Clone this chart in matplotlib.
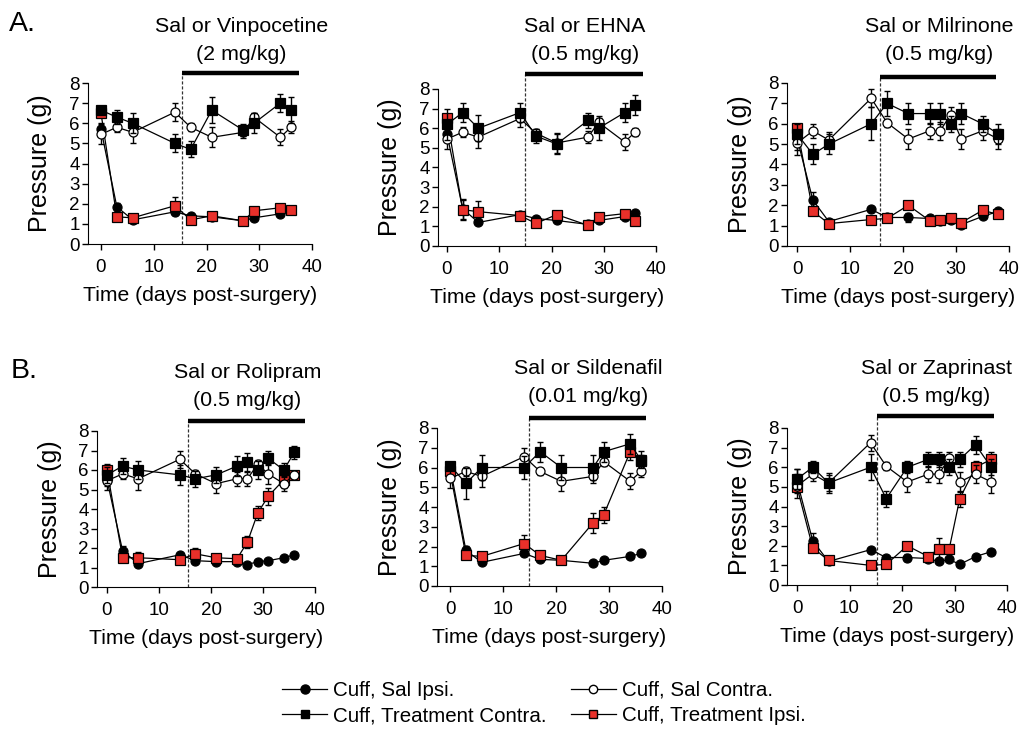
import numpy as np
import matplotlib.pyplot as plt
from matplotlib.lines import Line2D
from matplotlib import transforms

plt.rcParams['font.family'] = ['Liberation Sans', 'DejaVu Sans']

RED = '#e8302a'

# ---- data ----
# A. Vinpocetine
vin_days = [0, 3, 6, 14, 17, 21, 27, 29, 34, 36]
vin_sal_ipsi = [5.7, 1.85, 1.2, 1.6, 1.4, 1.35, 1.15, 1.3, 1.5, 1.7]
vin_sal_ipsi_err = [0.3, 0.2, 0.1, 0.1, 0.1, 0.1, 0.1, 0.1, 0.1, 0.1]
vin_sal_contra = [5.45, 5.8, 5.55, 6.55, 5.8, 5.3, 5.55, 6.3, 5.3, 5.8]
vin_sal_contra_err = [0.5, 0.25, 0.55, 0.45, 0.2, 0.5, 0.3, 0.2, 0.4, 0.3]
vin_trt_contra = [6.65, 6.3, 6.0, 5.0, 4.7, 6.65, 5.65, 6.0, 7.0, 6.65]
vin_trt_contra_err = [0.2, 0.35, 0.5, 0.45, 0.4, 0.65, 0.3, 0.5, 0.45, 0.65]
vin_trt_ipsi = [6.5, 1.35, 1.3, 1.9, 1.2, 1.4, 1.15, 1.65, 1.8, 1.7]
vin_trt_ipsi_err = [0.1, 0.1, 0.1, 0.45, 0.1, 0.1, 0.1, 0.1, 0.1, 0.1]

# A. EHNA
ehna_days = [0, 3, 6, 14, 17, 21, 27, 29, 34, 36]
ehna_sal_ipsi = [5.7, 1.9, 1.2, 1.6, 1.4, 1.3, 1.1, 1.3, 1.5, 1.7]
ehna_sal_ipsi_err = [0.3, 0.5, 0.1, 0.1, 0.1, 0.1, 0.1, 0.1, 0.1, 0.1]
ehna_sal_contra = [5.45, 5.8, 5.55, 6.5, 5.75, 5.25, 5.55, 6.3, 5.3, 5.8]
ehna_sal_contra_err = [0.5, 0.25, 0.55, 0.45, 0.2, 0.5, 0.3, 0.2, 0.4, 0.2]
ehna_trt_contra = [6.2, 6.8, 6.0, 6.8, 5.6, 5.2, 6.4, 6.0, 6.8, 7.2]
ehna_trt_contra_err = [0.8, 0.5, 0.65, 0.5, 0.35, 0.5, 0.4, 0.6, 0.5, 0.5]
ehna_trt_ipsi = [6.5, 1.85, 1.75, 1.55, 1.15, 1.6, 1.05, 1.5, 1.65, 1.25]
ehna_trt_ipsi_err = [0.1, 0.5, 0.55, 0.1, 0.1, 0.1, 0.1, 0.1, 0.1, 0.1]

# A. Milrinone
mil_days = [0, 3, 6, 14, 17, 21, 25, 27, 29, 31, 35, 38]
mil_sal_ipsi = [5.3, 2.25, 1.2, 1.8, 1.4, 1.4, 1.35, 1.25, 1.3, 1.05, 1.45, 1.7]
mil_sal_ipsi_err = [0.6, 0.4, 0.1, 0.1, 0.1, 0.2, 0.1, 0.1, 0.1, 0.1, 0.1, 0.1]
mil_sal_contra = [5.05, 5.65, 5.2, 7.25, 6.05, 5.25, 5.65, 5.65, 6.45, 5.25, 5.65, 5.25]
mil_sal_contra_err = [0.6, 0.35, 0.4, 0.45, 0.2, 0.5, 0.4, 0.45, 0.35, 0.5, 0.45, 0.5]
mil_trt_contra = [5.5, 4.5, 5.0, 6.0, 7.0, 6.5, 6.5, 6.5, 6.0, 6.5, 6.0, 5.5]
mil_trt_contra_err = [0.5, 0.5, 0.5, 0.8, 0.6, 0.5, 0.5, 0.5, 0.4, 0.5, 0.4, 0.5]
mil_trt_ipsi = [5.8, 1.7, 1.1, 1.3, 1.35, 2.0, 1.25, 1.3, 1.35, 1.15, 1.75, 1.55]
mil_trt_ipsi_err = [0.1, 0.1, 0.1, 0.1, 0.1, 0.1, 0.1, 0.1, 0.1, 0.1, 0.1, 0.1]

# B. Rolipram
rol_days = [0, 3, 6, 14, 17, 21, 25, 27, 29, 31, 34, 36]
rol_sal_ipsi = [5.5, 1.85, 1.2, 1.65, 1.35, 1.3, 1.3, 1.15, 1.3, 1.35, 1.5, 1.65]
rol_sal_ipsi_err = [0.3, 0.25, 0.1, 0.1, 0.1, 0.1, 0.1, 0.1, 0.1, 0.1, 0.1, 0.1]
rol_sal_contra = [5.45, 5.8, 5.55, 6.55, 5.8, 5.3, 5.55, 5.55, 6.3, 5.8, 5.3, 5.75]
rol_sal_contra_err = [0.5, 0.25, 0.55, 0.45, 0.2, 0.5, 0.35, 0.35, 0.2, 0.5, 0.4, 0.2]
rol_trt_contra = [5.75, 6.2, 6.0, 5.75, 5.55, 5.75, 6.2, 6.4, 6.0, 6.6, 6.0, 6.9]
rol_trt_contra_err = [0.4, 0.4, 0.45, 0.5, 0.4, 0.4, 0.5, 0.45, 0.45, 0.35, 0.35, 0.35]
rol_trt_ipsi = [6.0, 1.5, 1.5, 1.4, 1.7, 1.5, 1.45, 2.3, 3.8, 4.65, 5.5, 5.75]
rol_trt_ipsi_err = [0.3, 0.1, 0.3, 0.1, 0.3, 0.1, 0.1, 0.3, 0.35, 0.45, 0.4, 0.1]

# B. Sildenafil
sil_days = [0, 3, 6, 14, 17, 21, 27, 29, 34, 36]
sil_sal_ipsi = [6.05, 1.8, 1.2, 1.65, 1.35, 1.3, 1.15, 1.3, 1.5, 1.65]
sil_sal_ipsi_err = [0.2, 0.25, 0.1, 0.1, 0.1, 0.1, 0.1, 0.1, 0.1, 0.1]
sil_sal_contra = [5.45, 5.8, 5.55, 6.55, 5.8, 5.3, 5.55, 6.3, 5.3, 5.8]
sil_sal_contra_err = [0.5, 0.25, 0.55, 0.45, 0.2, 0.5, 0.35, 0.2, 0.4, 0.3]
sil_trt_contra = [6.1, 5.2, 6.0, 6.0, 6.8, 6.0, 6.0, 6.8, 7.2, 6.4]
sil_trt_contra_err = [0.2, 0.8, 0.65, 0.6, 0.5, 0.65, 0.65, 0.5, 0.5, 0.45]
sil_trt_ipsi = [5.8, 1.55, 1.5, 2.15, 1.55, 1.3, 3.2, 3.6, 6.8, 6.35]
sil_trt_ipsi_err = [0.1, 0.1, 0.1, 0.45, 0.1, 0.1, 0.5, 0.4, 0.4, 0.3]

# B. Zaprinast
zap_days = [0, 3, 6, 14, 17, 21, 25, 27, 29, 31, 34, 37]
zap_sal_ipsi = [5.3, 2.25, 1.2, 1.8, 1.4, 1.4, 1.35, 1.2, 1.3, 1.05, 1.45, 1.7]
zap_sal_ipsi_err = [0.6, 0.4, 0.1, 0.1, 0.1, 0.2, 0.1, 0.1, 0.1, 0.1, 0.1, 0.1]
zap_sal_contra = [5.05, 5.65, 5.2, 7.25, 6.05, 5.25, 5.65, 5.65, 6.45, 5.25, 5.65, 5.25]
zap_sal_contra_err = [0.6, 0.35, 0.4, 0.4, 0.2, 0.5, 0.4, 0.45, 0.35, 0.5, 0.45, 0.55]
zap_trt_contra = [5.4, 6.0, 5.2, 6.0, 4.4, 6.0, 6.4, 6.4, 6.0, 6.4, 7.15, 6.0]
zap_trt_contra_err = [0.5, 0.3, 0.5, 0.65, 0.4, 0.3, 0.4, 0.4, 0.4, 0.4, 0.45, 0.4]
zap_trt_ipsi = [5.0, 1.9, 1.25, 1.0, 1.05, 2.0, 1.45, 1.85, 1.85, 4.4, 6.0, 6.4]
zap_trt_ipsi_err = [0.1, 0.1, 0.1, 0.1, 0.1, 0.1, 0.1, 0.55, 0.1, 0.4, 0.3, 0.4]

drug_names = ['Sal or Vinpocetine', 'Sal or EHNA', 'Sal or Milrinone',
              'Sal or Rolipram', 'Sal or Sildenafil', 'Sal or Zaprinast']
doses = ['(2 mg/kg)', '(0.5 mg/kg)', '(0.5 mg/kg)',
         '(0.5 mg/kg)', '(0.01 mg/kg)', '(0.5 mg/kg)']
treat_start = [15.4, 14.9, 15.7, 15.6, 14.9, 15.2]
treat_end = [37.5, 37.5, 37.5, 38.0, 37.0, 37.5]

panels = [
    (vin_days, vin_sal_ipsi, vin_sal_ipsi_err, vin_sal_contra, vin_sal_contra_err,
     vin_trt_contra, vin_trt_contra_err, vin_trt_ipsi, vin_trt_ipsi_err),
    (ehna_days, ehna_sal_ipsi, ehna_sal_ipsi_err, ehna_sal_contra, ehna_sal_contra_err,
     ehna_trt_contra, ehna_trt_contra_err, ehna_trt_ipsi, ehna_trt_ipsi_err),
    (mil_days, mil_sal_ipsi, mil_sal_ipsi_err, mil_sal_contra, mil_sal_contra_err,
     mil_trt_contra, mil_trt_contra_err, mil_trt_ipsi, mil_trt_ipsi_err),
    (rol_days, rol_sal_ipsi, rol_sal_ipsi_err, rol_sal_contra, rol_sal_contra_err,
     rol_trt_contra, rol_trt_contra_err, rol_trt_ipsi, rol_trt_ipsi_err),
    (sil_days, sil_sal_ipsi, sil_sal_ipsi_err, sil_sal_contra, sil_sal_contra_err,
     sil_trt_contra, sil_trt_contra_err, sil_trt_ipsi, sil_trt_ipsi_err),
    (zap_days, zap_sal_ipsi, zap_sal_ipsi_err, zap_sal_contra, zap_sal_contra_err,
     zap_trt_contra, zap_trt_contra_err, zap_trt_ipsi, zap_trt_ipsi_err),
]

# pixel layout: spine left, x=0 px, x=40 px, y=8 px, y=0 px, bar px, title baseline px
layout = [
    (88, 101, 312, 83, 244, 73, 32),
    (438, 447, 656, 89, 246, 74, 32),
    (787, 797, 1009, 83, 246, 77, 32),
    (97, 107, 315, 431, 587, 421, 378),
    (437, 450, 662, 428, 586, 418, 374),
    (787, 797, 1007, 428, 585, 416, 374),
]

W, H = 1022, 755
fig = plt.figure(figsize=(W / 100, H / 100), dpi=100)


def draw_series(ax, x, y, err, marker, face, size, z):
    ax.errorbar(x, y, yerr=err, fmt='none', ecolor='black', elinewidth=1.0,
                capsize=2.5, capthick=1.0, zorder=z)
    ax.plot(x, y, color='black', lw=0.9, zorder=z + 0.5)
    ax.plot(x, y, ls='none', marker=marker, ms=size, mfc=face, mec='black',
            mew=0.9, zorder=z + 0.6)


for i, (data, lay) in enumerate(zip(panels, layout)):
    days, si, si_e, sc, sc_e, tc, tc_e, ti, ti_e = data
    left, x0, x40, ytop, ybot, ybar, ytitle = lay
    ppd = (x40 - x0) / 40.0
    xmin = -(x0 - left) / ppd
    ax = fig.add_axes([left / W, 1 - ybot / H, (x40 - left) / W, (ybot - ytop) / H])
    ax.set_xlim(xmin, 40)
    ax.set_ylim(0, 8)

    draw_series(ax, days, si, si_e, 'o', 'black', 6.5, 2)
    draw_series(ax, days, ti, ti_e, 's', RED, 7.5, 3)
    draw_series(ax, days, sc, sc_e, 'o', 'white', 6.5, 4)
    draw_series(ax, days, tc, tc_e, 's', 'black', 7.5, 5)

    bar_y = (ybot - ybar) / (ybot - ytop) * 8
    ax.plot([treat_start[i], treat_end[i]], [bar_y, bar_y], color='black', lw=3.2,
            solid_capstyle='butt', clip_on=False)
    ax.plot([treat_start[i], treat_start[i]], [0, bar_y], color='#333333', lw=0.9,
            ls=(0, (2.5, 1.5)), clip_on=False, zorder=1)

    trans = transforms.blended_transform_factory(ax.transData, fig.transFigure)
    xc = (treat_start[i] + treat_end[i]) / 2 + 0.2
    ax.text(xc, 1 - ytitle / H, drug_names[i], transform=trans, ha='center',
            va='baseline', fontsize=15.4)
    ax.text(xc, 1 - (ytitle + 28) / H, doses[i], transform=trans, ha='center',
            va='baseline', fontsize=15.4)

    ax.spines['top'].set_visible(False)
    ax.spines['right'].set_visible(False)
    ax.set_xticks([0, 10, 20, 30, 40])
    ax.set_yticks(range(0, 9))
    ax.tick_params(direction='out', length=4, width=1, labelsize=13.5)
    ax.tick_params(axis='x', pad=7)
    ax.tick_params(axis='y', pad=2)
    ax.set_ylabel('Pressure (g)', fontsize=18, labelpad=12)
    ax.set_xlabel('Time (days post-surgery)', fontsize=15.2, labelpad=7)

fig.text(9 / W, 1 - 24 / H, 'A.', fontsize=20.5, va='center', ha='left')
fig.text(11 / W, 1 - 371 / H, 'B.', fontsize=20.5, va='center', ha='left')

handles = [
    Line2D([], [], color='black', lw=0.9, marker='o', ms=6.5, mfc='black', mec='black'),
    Line2D([], [], color='black', lw=0.9, marker='s', ms=6, mfc='black', mec='black'),
    Line2D([], [], color='black', lw=0.9, marker='o', ms=6, mfc='white', mec='black'),
    Line2D([], [], color='black', lw=0.9, marker='s', ms=6, mfc=RED, mec='black'),
]
labels = ['Cuff, Sal Ipsi.', 'Cuff, Treatment Contra.',
          'Cuff, Sal Contra.', 'Cuff, Treatment Ipsi.']
fig.legend(handles, labels, ncol=2, loc='upper left',
           bbox_to_anchor=(282 / W, 1 - 681 / H), frameon=False, fontsize=14.8,
           handlelength=2.2, handletextpad=0.3, columnspacing=1.15,
           labelspacing=0.3, borderaxespad=0, borderpad=0)

fig.savefig('out.png', dpi=100)
